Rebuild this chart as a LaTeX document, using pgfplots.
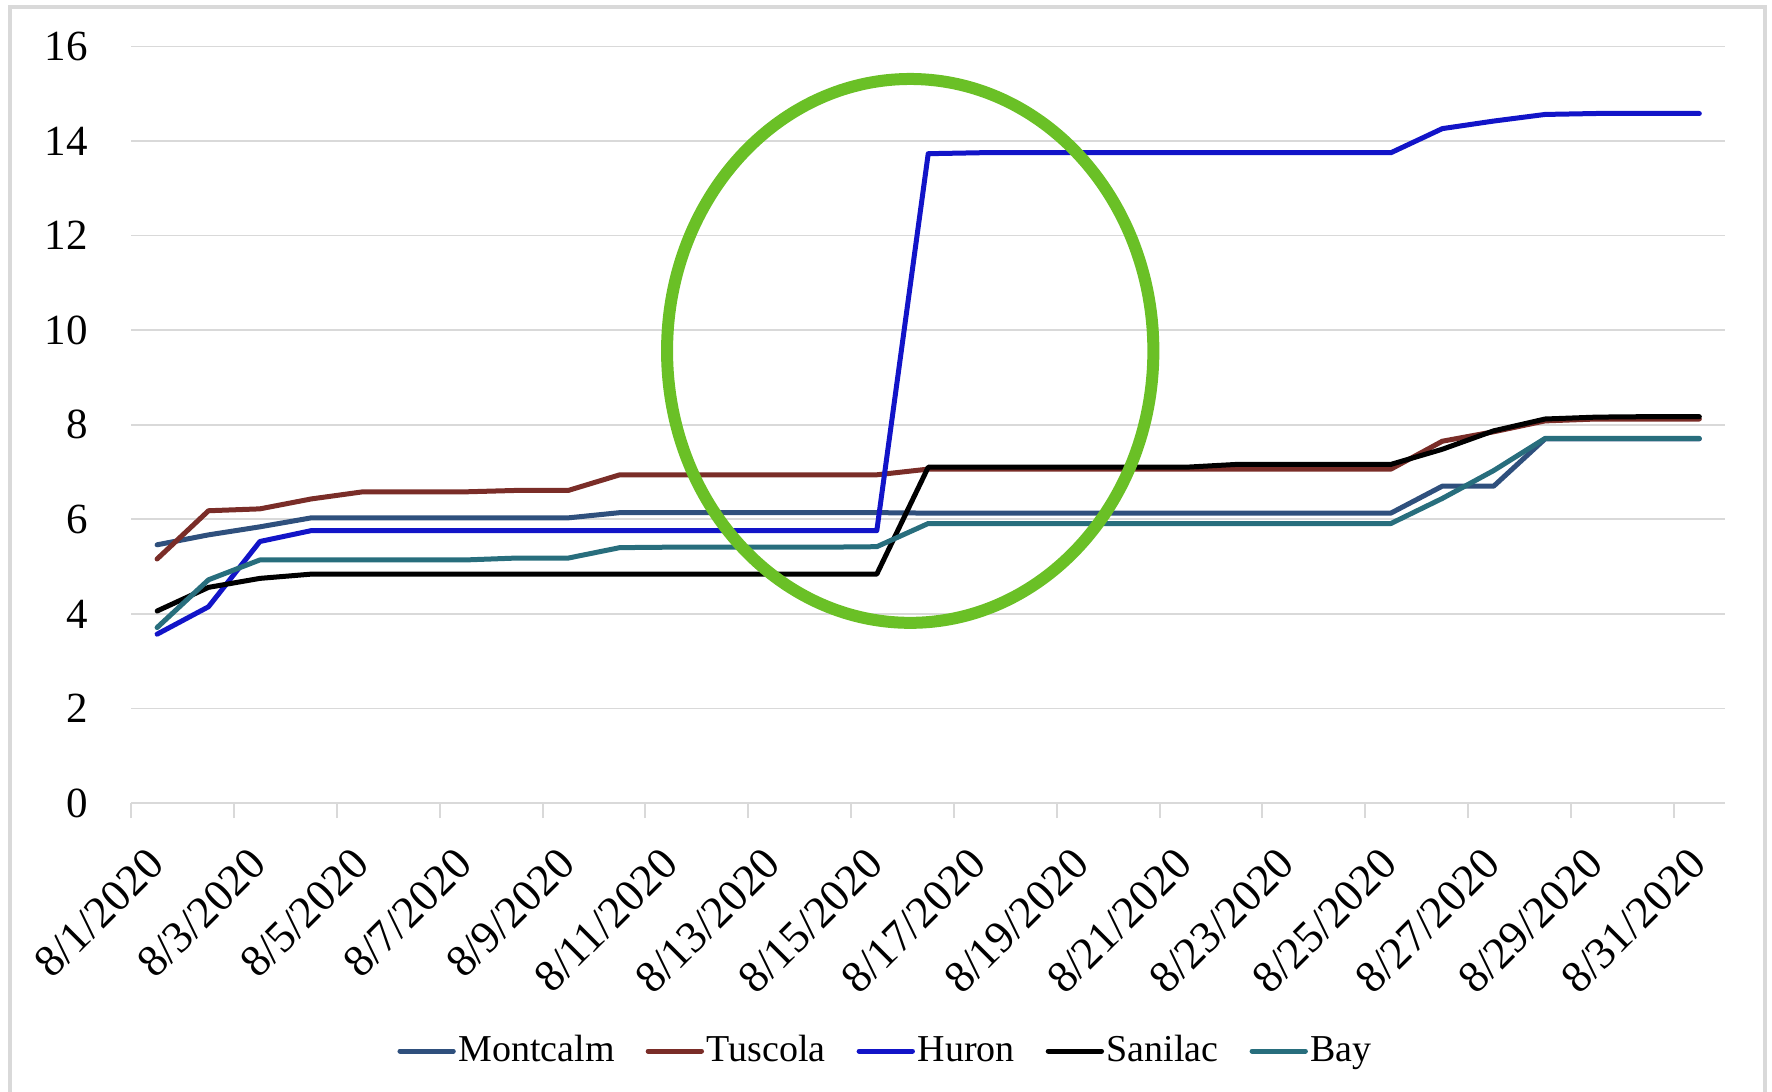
\documentclass[border=0pt]{standalone}
\usepackage{fontspec}
\setmainfont{Liberation Serif}
\usepackage{pgfplots}
\usepackage{pgfplotstable}
\pgfplotsset{compat=1.18}

\definecolor{cMont}{RGB}{47,80,125}
\definecolor{cTusc}{RGB}{122,45,40}
\definecolor{cHuron}{RGB}{18,20,200}
\definecolor{cSan}{RGB}{0,0,0}
\definecolor{cBay}{RGB}{40,110,125}
\definecolor{cGrid}{RGB}{217,217,217}
\definecolor{cRing}{RGB}{106,192,38}

% day of August 2020 and the values of each county
\pgfplotstableread{
day Montcalm Tuscola Huron Sanilac Bay
1   5.46 5.16 3.57  4.06 3.71
2   5.67 6.18 4.15  4.56 4.72
3   5.84 6.22 5.53  4.75 5.14
4   6.03 6.43 5.76  4.84 5.14
5   6.03 6.58 5.76  4.84 5.14
6   6.03 6.58 5.76  4.84 5.14
7   6.03 6.58 5.76  4.84 5.14
8   6.03 6.61 5.76  4.84 5.18
9   6.03 6.61 5.76  4.84 5.18
10  6.14 6.94 5.76  4.84 5.40
11  6.14 6.94 5.76  4.84 5.41
12  6.14 6.94 5.76  4.84 5.41
13  6.14 6.94 5.76  4.84 5.41
14  6.14 6.94 5.76  4.84 5.41
15  6.14 6.94 5.76  4.84 5.42
16  6.13 7.06 13.73 7.10 5.91
17  6.13 7.06 13.75 7.10 5.91
18  6.13 7.06 13.75 7.10 5.91
19  6.13 7.06 13.75 7.10 5.91
20  6.13 7.06 13.75 7.10 5.91
21  6.13 7.06 13.75 7.10 5.91
22  6.13 7.06 13.75 7.16 5.91
23  6.13 7.06 13.75 7.16 5.91
24  6.13 7.06 13.75 7.16 5.91
25  6.13 7.06 13.75 7.16 5.91
26  6.70 7.65 14.26 7.48 6.44
27  6.70 7.85 14.42 7.87 7.03
28  7.70 8.08 14.56 8.12 7.71
29  7.70 8.12 14.58 8.16 7.71
30  7.70 8.12 14.58 8.17 7.71
31  7.70 8.12 14.58 8.17 7.71
}\countydata

\begin{document}
\begin{tikzpicture}
\begin{axis}[
  at={(0,0)}, anchor=south west,
  scale only axis,
  width=478.08pt, height=227.0pt,
  xmin=0.5, xmax=31.5,
  ymin=0, ymax=16,
  ytick={0,2,...,16},
  xtick={1,3,...,31},
  xticklabels={8/1/2020,8/3/2020,8/5/2020,8/7/2020,8/9/2020,8/11/2020,8/13/2020,8/15/2020,8/17/2020,8/19/2020,8/21/2020,8/23/2020,8/25/2020,8/27/2020,8/29/2020,8/31/2020},
  major tick length=0pt,
  extra x ticks={0.5,2.5,...,30.5},
  extra x tick labels={},
  extra x tick style={major tick length=4.5pt, tick align=outside, xmajorgrids=false,
    major tick style={draw=cGrid, line width=0.6pt}},
  ymajorgrids,
  grid style={draw=cGrid, line width=0.5pt},
  axis x line*=bottom,
  axis y line*=left,
  x axis line style={draw=cGrid, line width=0.6pt, -},
  y axis line style={draw=none},
  /pgf/number format/assume math mode=true,
  tick label style={text=black},
  yticklabel style={font=\fontsize{12.9}{15}\selectfont, anchor=east, inner sep=0pt, xshift=-12.9pt},
  xticklabel style={font=\fontsize{13.5}{15}\selectfont, xshift=-3.7pt, yshift=-12.5pt, rotate=45, anchor=north east, inner sep=0pt},
  legend columns=5,
  legend style={at={(0.4735,-0.3278)}, anchor=center, draw=none, fill=none,
    font=\fontsize{11.4}{13}\selectfont,
    /tikz/every even column/.append style={column sep=8.5pt},
    nodes={inner xsep=0.8pt, inner ysep=1pt}},
  legend image code/.code={\draw[#1, line width=1.5pt, line cap=round] (0pt,0pt) -- (16pt,0pt);},
  every axis plot/.append style={line width=1.5pt, line join=round, line cap=round, mark=none},
  clip=false,
]
\addplot[cMont]  table[x=day, y=Montcalm] {\countydata};
\addlegendentry{Montcalm}
\addplot[cTusc]  table[x=day, y=Tuscola]  {\countydata};
\addlegendentry{Tuscola}
\addplot[cHuron] table[x=day, y=Huron]    {\countydata};
\addlegendentry{Huron}
\addplot[cSan]   table[x=day, y=Sanilac]  {\countydata};
\addlegendentry{Sanilac}
\addplot[cBay]   table[x=day, y=Bay]      {\countydata};
\addlegendentry{Bay}
% highlight around the jump on 8/16
\draw[cRing, line width=3.6pt] (axis cs:15.65,9.56) ellipse [x radius=4.73, y radius=5.75];
\end{axis}
% chart area border
\draw[cGrid, line width=1.2pt] (-36.42pt,-87.6pt) rectangle (490.02pt,238.8pt);
\pgfresetboundingbox
\path[use as bounding box] (-39.42pt,-86.4pt) rectangle (492.18pt,240.9pt);
\end{tikzpicture}
\end{document}
